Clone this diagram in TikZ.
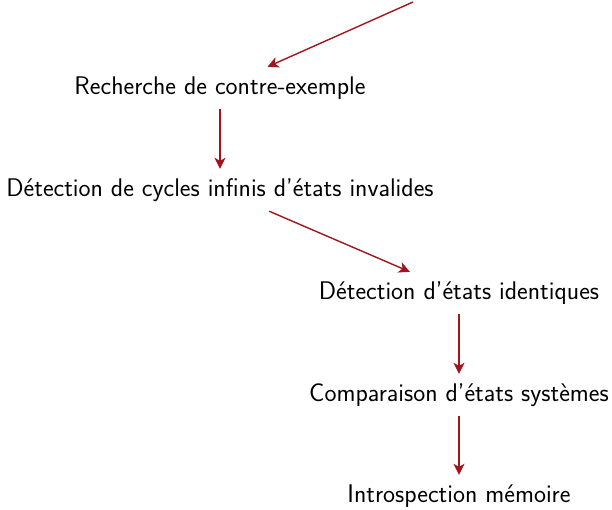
\documentclass[tikz,border=0pt]{standalone}
\usepackage{fontspec}
\usetikzlibrary{arrows.meta}
\definecolor{arrowred}{RGB}{160,22,28}
\begin{document}
\begin{tikzpicture}[x=1pt,y=-1pt,
  every node/.style={font=\sffamily\fontsize{25.5}{30}\selectfont, minimum height=42pt, inner sep=2pt},
  flow/.style={draw=arrowred, line width=1.4pt, -{Stealth[length=11pt,width=11pt,inset=3pt]}}]
  \useasboundingbox (0,0) rectangle (612,509);
  \coordinate (start) at (413,2);
  \node (rech) at (220,88) {Recherche de contre-exemple};
  \node (cyc) at (220,190) {Détection de cycles infinis d’états invalides};
  \node (ident) at (459,293) {Détection d’états identiques};
  \node (comp) at (459,395) {Comparaison d’états systèmes};
  \node (intro) at (459,496) {Introspection mémoire};
  \draw[flow] (start) -- (rech);
  \draw[flow] (rech) -- (cyc);
  \draw[flow] (cyc) -- (ident);
  \draw[flow] (ident) -- (comp);
  \draw[flow] (comp) -- (intro);
\end{tikzpicture}
\end{document}
